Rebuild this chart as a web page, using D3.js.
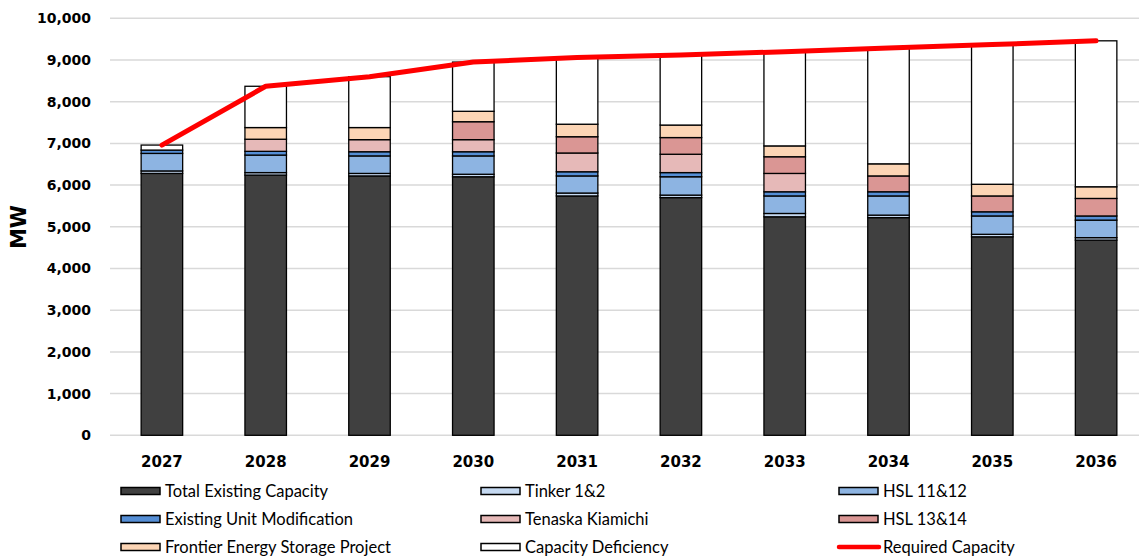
<!DOCTYPE html>
<html><head><meta charset="utf-8">
<script src="https://cdn.jsdelivr.net/npm/d3@7"></script>
<style>html,body{margin:0;padding:0;background:#fff;}svg{display:block;}</style>
</head><body>
<svg id="chart" width="1139" height="558"></svg>
<script>
const years = ["2027","2028","2029","2030","2031","2032","2033","2034","2035","2036"];
const totalExisting = [6280,6240,6220,6200,5740,5700,5240,5220,4760,4680];
const tinker = [60,60,60,60,70,60,80,60,60,60];
const hsl1112 = [420,420,420,440,410,440,420,460,440,420];
const existingUnitMod = [80,90,100,100,100,100,100,100,100,100];
const tenaska = [0,290,290,290,450,440,440,0,0,0];
const hsl1314 = [0,0,0,430,390,400,400,380,380,420];
const frontier = [0,280,290,250,300,300,260,290,280,280];
const deficiency = [120,990,1220,1180,1600,1680,2260,2780,3350,3500];
const requiredCapacity = [6960,8370,8600,8950,9060,9120,9200,9290,9370,9460];
const yTicks = [0,1000,2000,3000,4000,5000,6000,7000,8000,9000,10000];

const seriesNames = ["Total Existing Capacity","Tinker 1&2","HSL 11&12","Existing Unit Modification","Tenaska Kiamichi","HSL 13&14","Frontier Energy Storage Project","Capacity Deficiency"];
const seriesValues = [totalExisting,tinker,hsl1112,existingUnitMod,tenaska,hsl1314,frontier,deficiency];
const seriesColors = ["#404040","#C5D9F1","#8DB4E2","#558ED5","#E6B9B8","#DA9694","#FCD5B5","#FFFFFF"];

const svg = d3.select("#chart");
const x = d3.scaleBand().domain(years).range([110,1148]).paddingInner(0.6).paddingOuter(0.3);
const y = d3.scaleLinear().domain([0,10000]).range([435.3,18.3]);

// gridlines
svg.append("g").selectAll("line").data(yTicks.filter(d=>d>0)).join("line")
  .attr("x1",110).attr("x2",1139)
  .attr("y1",d=>y(d)).attr("y2",d=>y(d))
  .attr("stroke","#D9D9D9").attr("stroke-width",1.5);

// y axis labels
const yAxis = d3.axisLeft(y).tickValues(yTicks).tickFormat(d3.format(",")).tickSize(0).tickPadding(0);
const yg = svg.append("g").attr("transform","translate(91,0)").call(yAxis);
yg.select(".domain").remove();
yg.selectAll("text").attr("font-family","DejaVu Sans").attr("font-weight","bold").attr("font-size",14).attr("fill","#000");

// baseline
svg.append("line").attr("x1",110).attr("x2",1139).attr("y1",y(0)).attr("y2",y(0)).attr("stroke","#D9D9D9").attr("stroke-width",1.5);

// stacked data
const rows = years.map((yr,i)=>{const o={year:yr};seriesNames.forEach((n,k)=>o[n]=seriesValues[k][i]);return o;});
const stack = d3.stack().keys(seriesNames)(rows);

svg.append("g").selectAll("g").data(stack).join("g")
  .attr("fill",(d,i)=>seriesColors[i])
  .selectAll("rect").data(d=>d.filter(p=>p[1]-p[0]>0)).join("rect")
  .attr("x",d=>x(d.data.year))
  .attr("width",x.bandwidth())
  .attr("y",d=>y(d[1]))
  .attr("height",d=>y(d[0])-y(d[1]))
  .attr("stroke","#000").attr("stroke-width",1.3);

// x axis labels
const xAxis = d3.axisBottom(x).tickSize(0).tickPadding(0);
const xg = svg.append("g").attr("transform","translate(0,456)").call(xAxis);
xg.select(".domain").remove();
xg.selectAll("text").attr("font-family","DejaVu Sans").attr("font-weight","bold").attr("font-size",15).attr("fill","#000").attr("dy","0.71em");

// required capacity line
const line = d3.line().x((d,i)=>x(years[i])+x.bandwidth()/2).y(d=>y(d));
svg.append("path").datum(requiredCapacity).attr("d",line)
  .attr("fill","none").attr("stroke","#FF0000").attr("stroke-width",5).attr("stroke-linejoin","round").attr("stroke-linecap","round");

// y title
svg.append("text").attr("transform","translate(26,227) rotate(-90)")
  .attr("text-anchor","middle").attr("font-family","DejaVu Sans").attr("font-weight","bold").attr("font-size",21).text("MW");

// legend
const legendItems = [...seriesNames.map((n,i)=>({name:n,color:seriesColors[i],type:"rect"})),{name:"Required Capacity",color:"#FF0000",type:"line"}];
const colX = [121,481,839];
const rowY = [491,519,547];
const lg = svg.append("g");
legendItems.forEach((it,i)=>{
  const cx = colX[i%3], cy = rowY[Math.floor(i/3)];
  if(it.type==="rect"){
    lg.append("rect").attr("x",cx).attr("y",cy-3.5).attr("width",39).attr("height",7)
      .attr("fill",it.color).attr("stroke","#000").attr("stroke-width",1.5);
  } else {
    lg.append("line").attr("x1",cx).attr("x2",cx+40).attr("y1",cy).attr("y2",cy)
      .attr("stroke",it.color).attr("stroke-width",4.5).attr("stroke-linecap","round");
  }
  lg.append("text").attr("x",cx+44).attr("y",cy+6).attr("font-family","Lato").attr("font-size",16.5).attr("fill","#000").text(it.name);
});
</script>
</body></html>
